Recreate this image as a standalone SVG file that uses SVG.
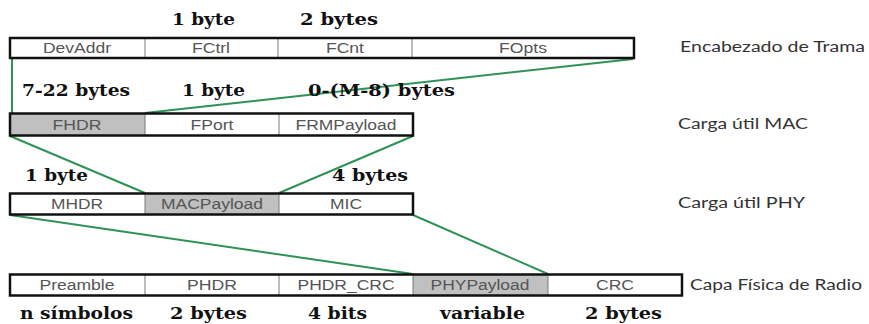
<svg xmlns="http://www.w3.org/2000/svg" width="869" height="324" viewBox="0 0 869 324">
  <style>
    .frame { fill: none; stroke: #111; stroke-width: 2.5; }
    .cell { fill: #fff; }
    .shade { fill: #c0c0c0; }
    .div { stroke: #7a7a7a; stroke-width: 1; }
    .ft { font-family: "Liberation Sans", Arial, sans-serif; font-size: 14px; fill: #555; text-anchor: middle; }
    .sz { font-family: "DejaVu Serif", "Liberation Serif", serif; font-weight: bold; font-size: 16.5px; fill: #111; }
    .lvl { font-family: Lato, "Open Sans", sans-serif; font-size: 15.5px; fill: #333; }
    .link { stroke: #2f9257; stroke-width: 2; fill: none; }
  </style>

  <rect x="0" y="0" width="869" height="324" fill="#fff"/>

  <!-- connectors between layers -->
  <g id="connectors">
    <line class="link" x1="12" y1="59" x2="12" y2="113"/>
    <line class="link" x1="633" y1="59" x2="145" y2="113"/>
    <line class="link" x1="10" y1="136" x2="145" y2="193"/>
    <line class="link" x1="413" y1="136" x2="279" y2="193"/>
    <line class="link" x1="10" y1="215" x2="413" y2="274"/>
    <line class="link" x1="413" y1="215" x2="548" y2="274"/>
  </g>

  <!-- frame header -->
  <g id="frame-header">
    <rect class="cell" x="10" y="38" width="624" height="20"/>
    <line class="div" x1="145" y1="38" x2="145" y2="58"/>
    <line class="div" x1="278" y1="38" x2="278" y2="58"/>
    <line class="div" x1="412" y1="38" x2="412" y2="58"/>
    <rect class="frame" x="10" y="38" width="624" height="20"/>
    <text class="ft" x="77" y="53" textLength="68" lengthAdjust="spacingAndGlyphs">DevAddr</text>
    <text class="ft" x="211" y="53" textLength="38" lengthAdjust="spacingAndGlyphs">FCtrl</text>
    <text class="ft" x="345" y="53" textLength="38" lengthAdjust="spacingAndGlyphs">FCnt</text>
    <text class="ft" x="523" y="53" textLength="48" lengthAdjust="spacingAndGlyphs">FOpts</text>
    <text class="lvl" x="680" y="52" textLength="185" lengthAdjust="spacingAndGlyphs">Encabezado de Trama</text>
  </g>

  <!-- MAC payload -->
  <g id="mac-payload">
    <rect class="cell" x="10" y="113.5" width="403" height="22"/>
    <rect class="shade" x="10" y="113.5" width="135" height="22"/>
    <line class="div" x1="145" y1="113.5" x2="145" y2="135.5"/>
    <line class="div" x1="279" y1="113.5" x2="279" y2="135.5"/>
    <rect class="frame" x="10" y="113.5" width="403" height="22"/>
    <text class="ft" x="77" y="129.5" textLength="49" lengthAdjust="spacingAndGlyphs">FHDR</text>
    <text class="ft" x="212" y="129.5" textLength="43" lengthAdjust="spacingAndGlyphs">FPort</text>
    <text class="ft" x="346" y="129.5" textLength="101" lengthAdjust="spacingAndGlyphs">FRMPayload</text>
    <text class="lvl" x="678" y="129" textLength="130" lengthAdjust="spacingAndGlyphs">Carga útil MAC</text>
  </g>

  <!-- PHY payload -->
  <g id="phy-payload">
    <rect class="cell" x="10" y="193.5" width="403" height="21"/>
    <rect class="shade" x="145" y="193.5" width="134" height="21"/>
    <line class="div" x1="145" y1="193.5" x2="145" y2="214.5"/>
    <line class="div" x1="279" y1="193.5" x2="279" y2="214.5"/>
    <rect class="frame" x="10" y="193.5" width="403" height="21"/>
    <text class="ft" x="77" y="209" textLength="52" lengthAdjust="spacingAndGlyphs">MHDR</text>
    <text class="ft" x="212" y="209" textLength="102" lengthAdjust="spacingAndGlyphs">MACPayload</text>
    <text class="ft" x="346" y="209" textLength="32" lengthAdjust="spacingAndGlyphs">MIC</text>
    <text class="lvl" x="678" y="208" textLength="127" lengthAdjust="spacingAndGlyphs">Carga útil PHY</text>
  </g>

  <!-- radio physical layer -->
  <g id="radio-layer">
    <rect class="cell" x="10" y="274.5" width="672" height="21"/>
    <rect class="shade" x="413" y="274.5" width="135" height="21"/>
    <line class="div" x1="145" y1="274.5" x2="145" y2="295.5"/>
    <line class="div" x1="279" y1="274.5" x2="279" y2="295.5"/>
    <line class="div" x1="413" y1="274.5" x2="413" y2="295.5"/>
    <line class="div" x1="548" y1="274.5" x2="548" y2="295.5"/>
    <rect class="frame" x="10" y="274.5" width="672" height="21"/>
    <text class="ft" x="77" y="290" textLength="75" lengthAdjust="spacingAndGlyphs">Preamble</text>
    <text class="ft" x="212" y="290" textLength="50" lengthAdjust="spacingAndGlyphs">PHDR</text>
    <text class="ft" x="346" y="290" textLength="97" lengthAdjust="spacingAndGlyphs">PHDR_CRC</text>
    <text class="ft" x="480" y="290" textLength="99" lengthAdjust="spacingAndGlyphs">PHYPayload</text>
    <text class="ft" x="615" y="290" textLength="38" lengthAdjust="spacingAndGlyphs">CRC</text>
    <text class="lvl" x="690" y="290" textLength="172" lengthAdjust="spacingAndGlyphs">Capa Física de Radio</text>
  </g>

  <!-- field sizes -->
  <g id="sizes">
    <text class="sz" x="172" y="25" textLength="63" lengthAdjust="spacingAndGlyphs">1 byte</text>
    <text class="sz" x="300" y="25" textLength="78" lengthAdjust="spacingAndGlyphs">2 bytes</text>
    <text class="sz" x="22" y="96" textLength="108" lengthAdjust="spacingAndGlyphs">7-22 bytes</text>
    <text class="sz" x="182" y="96" textLength="63" lengthAdjust="spacingAndGlyphs">1 byte</text>
    <text class="sz" x="308" y="96" textLength="147" lengthAdjust="spacingAndGlyphs">0-(M-8) bytes</text>
    <text class="sz" x="25" y="181" textLength="63" lengthAdjust="spacingAndGlyphs">1 byte</text>
    <text class="sz" x="332" y="181" textLength="76" lengthAdjust="spacingAndGlyphs">4 bytes</text>
    <text class="sz" x="20" y="319" textLength="113" lengthAdjust="spacingAndGlyphs">n símbolos</text>
    <text class="sz" x="170" y="319" textLength="77" lengthAdjust="spacingAndGlyphs">2 bytes</text>
    <text class="sz" x="308" y="319" textLength="59" lengthAdjust="spacingAndGlyphs">4 bits</text>
    <text class="sz" x="440" y="319" textLength="85" lengthAdjust="spacingAndGlyphs">variable</text>
    <text class="sz" x="585" y="319" textLength="77" lengthAdjust="spacingAndGlyphs">2 bytes</text>
  </g>
</svg>
